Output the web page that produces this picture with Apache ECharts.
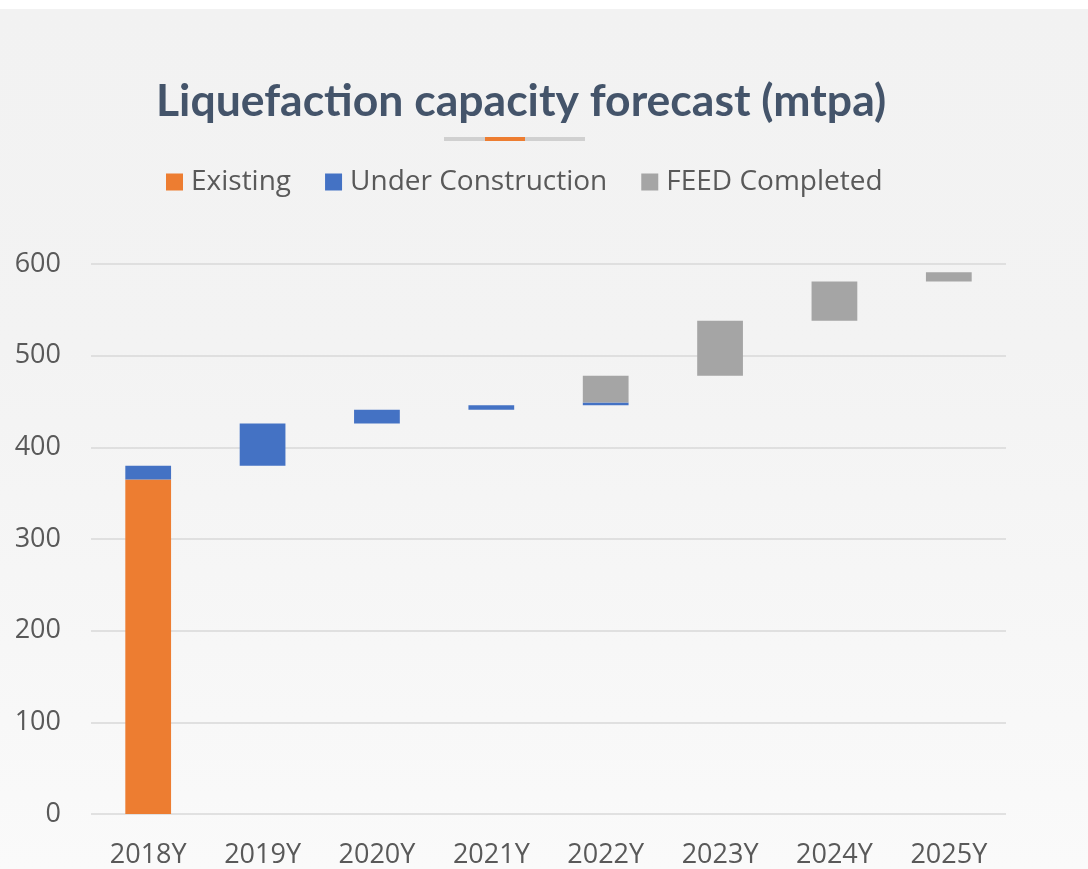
<!DOCTYPE html>
<html style="height: 100%">
<head>
<meta charset="utf-8">
<script src="https://cdn.jsdelivr.net/npm/echarts@6/dist/echarts.min.js"></script>
</head>
<body style="height: 100%; margin: 0; background: linear-gradient(to bottom, #ffffff 0, #ffffff 9px, #f2f2f2 9px, #f3f3f3 40%, #fafafa 100%);">
<div id="container" style="width: 1088px; height: 869px"></div>
<script type="text/javascript">
var years = ['2018Y', '2019Y', '2020Y', '2021Y', '2022Y', '2023Y', '2024Y', '2025Y'];
// invisible offset under each floating block
var baseline = [0, 380, 426, 441, 446, 478, 538, 581];
var existing = [365, 0, 0, 0, 0, 0, 0, 0];
var underConstruction = [15, 46, 15, 5, 3, 0, 0, 0];
var feedCompleted = [0, 0, 0, 0, 29, 60, 43, 10];
var yTicks = [0, 100, 200, 300, 400, 500, 600];

var myChart = echarts.init(document.getElementById('container'));
var labelFont = 'Open Sans';

var option = {
    backgroundColor: 'transparent',
    animation: false,
    title: {
        text: 'Liquefaction capacity forecast (mtpa)',
        left: 151,
        top: 74,
        textStyle: {
            fontFamily: 'Lato',
            fontWeight: 'bold',
            fontSize: 44.5,
            color: '#44546a'
        }
    },
    graphic: [
        { type: 'rect', shape: { x: 444, y: 137, width: 141, height: 4 }, style: { fill: '#d0d0d0' } },
        { type: 'rect', shape: { x: 485, y: 137, width: 40, height: 4 }, style: { fill: '#ed7d31' } }
    ],
    legend: {
        data: ['Existing', 'Under Construction', 'FEED Completed'],
        top: 163,
        left: 161,
        itemWidth: 17,
        itemHeight: 17,
        itemGap: 34,
        icon: 'rect',
        textStyle: { fontFamily: labelFont, fontSize: 28, color: '#595959', padding: [0, 0, 0, 3] }
    },
    grid: { left: 91, right: 82, top: 264, bottom: 55 },
    xAxis: {
        type: 'category',
        data: years,
        axisLine: { show: false },
        axisTick: { show: false },
        axisLabel: { fontFamily: labelFont, fontSize: 27, color: '#595959', margin: 28 }
    },
    yAxis: {
        type: 'value',
        min: yTicks[0],
        max: yTicks[yTicks.length - 1],
        interval: 100,
        axisLine: { show: false },
        axisTick: { show: false },
        axisLabel: { fontFamily: labelFont, fontSize: 27, color: '#595959', margin: 30 },
        splitLine: { lineStyle: { color: '#d9d9d9', width: 1.5 } }
    },
    series: [
        {
            name: 'base',
            type: 'bar',
            stack: 'total',
            barWidth: '40%',
            itemStyle: { color: 'transparent' },
            emphasis: { disabled: true },
            data: baseline
        },
        {
            name: 'Existing',
            type: 'bar',
            stack: 'total',
            itemStyle: { color: '#ed7d31' },
            data: existing
        },
        {
            name: 'Under Construction',
            type: 'bar',
            stack: 'total',
            itemStyle: { color: '#4472c4' },
            data: underConstruction
        },
        {
            name: 'FEED Completed',
            type: 'bar',
            stack: 'total',
            itemStyle: { color: '#a5a5a5' },
            data: feedCompleted
        }
    ]
};

myChart.setOption(option, true);
</script>
</body>
</html>
